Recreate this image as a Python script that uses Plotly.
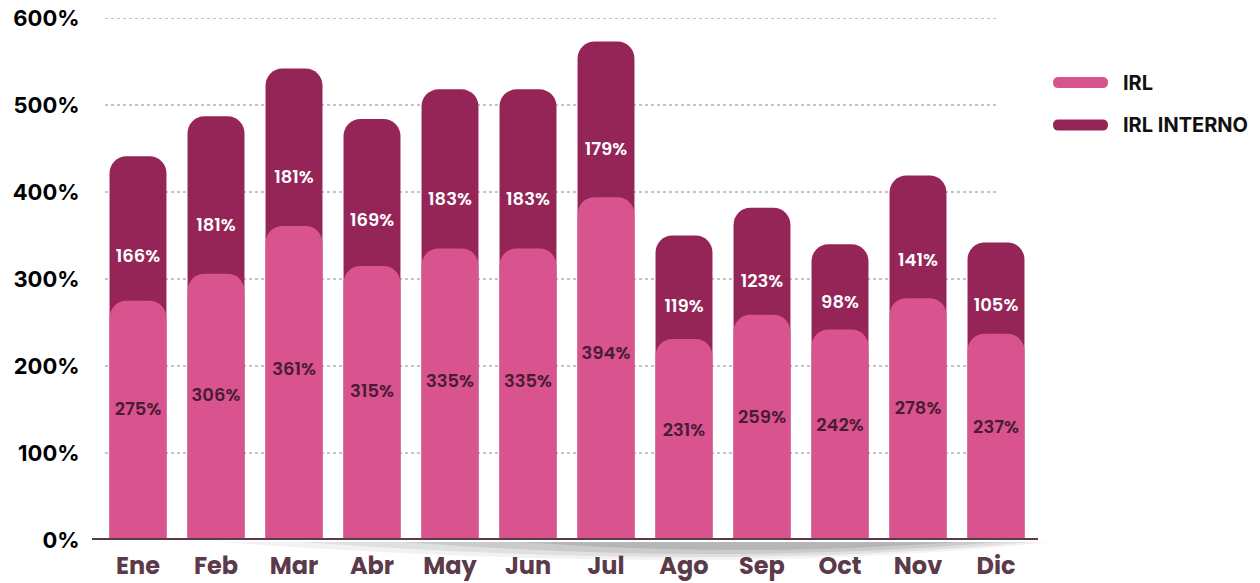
import plotly.graph_objects as go

# ---- data ----
months = ["Ene", "Feb", "Mar", "Abr", "May", "Jun", "Jul", "Ago", "Sep", "Oct", "Nov", "Dic"]
irl = [275, 306, 361, 315, 335, 335, 394, 231, 259, 242, 278, 237]
irl_interno = [166, 181, 181, 169, 183, 183, 179, 119, 123, 98, 141, 105]
y_ticks = [0, 100, 200, 300, 400, 500, 600]
series_names = ["IRL", "IRL INTERNO"]

PINK = "#D9548F"
DARK = "#952457"
XLAB = "#5B3A4A"
PINK_TXT = "#4A1B33"

totals = [a + b for a, b in zip(irl, irl_interno)]

OFF = 8  # default page body margin
W, H = 1260 - OFF, 583 - OFF
# plot area in page pixels: x 99..1035, y 18..540
L, T = 99 - OFF, 18 - OFF
R, B = W - (1035 - OFF), H - (540 - OFF)
PW, PH = W - L - R, H - T - B
BW = 0.73


def px_x(px):
    return (px - OFF - L) / PW


def px_y(py):
    return (H - B - (py - OFF)) / PH


fig = go.Figure()

# full stack (dark) drawn first, rounded top
fig.add_bar(x=months, y=totals, name=series_names[1], width=BW,
            marker=dict(color=DARK, cornerradius=17, line_width=0),
            showlegend=False, hoverinfo="skip", xaxis="x", yaxis="y")
# IRL (pink) on an overlaid subplot so it gets its own rounded top
fig.add_bar(x=months, y=irl, name=series_names[0], width=BW,
            marker=dict(color=PINK, cornerradius=17, line_width=0),
            showlegend=False, hoverinfo="skip", xaxis="x2", yaxis="y2")

# labels
fig.add_scatter(x=months, y=[v * 0.54 for v in irl], mode="text",
                text=[f"{v}%" for v in irl],
                textfont=dict(color=PINK_TXT, size=18, family="Poppins, Inter, sans-serif", weight=600),
                showlegend=False, hoverinfo="skip", xaxis="x2", yaxis="y2")
fig.add_scatter(x=months, y=[a + b * 0.3 for a, b in zip(irl, irl_interno)], mode="text",
                text=[f"{v}%" for v in irl_interno],
                textfont=dict(color="white", size=18, family="Poppins, Inter, sans-serif", weight=600),
                showlegend=False, hoverinfo="skip", xaxis="x2", yaxis="y2")

shapes = []
# dotted gridlines
for v in y_ticks[1:]:
    shapes.append(dict(type="line", xref="paper", yref="y", x0=px_x(105), x1=px_x(998), y0=v, y1=v,
                       line=dict(color="#8A8A8A", width=1, dash="dot"), layer="below"))

# soft shadow under axis line
for x0, x1, xc, yc, a in [(220, 1050, 720, 578, 0.05), (300, 1030, 720, 572, 0.07),
                          (400, 1000, 730, 566, 0.09), (520, 960, 740, 558, 0.10)]:
    path = (f"M {px_x(x0)},{px_y(542)} Q {px_x(xc)},{px_y(yc)} {px_x(x1)},{px_y(542)} Z")
    shapes.append(dict(type="path", xref="paper", yref="paper", path=path,
                       fillcolor=f"rgba(0,0,0,{a})", line=dict(width=0), layer="above"))

# axis line
shapes.append(dict(type="line", xref="paper", yref="y", x0=px_x(92), x1=px_x(1038), y0=0, y1=0,
                   line=dict(color=XLAB, width=4), layer="above"))


# legend rounded markers
def pill(xa, xb, ya, yb):
    r = (yb - ya) / 2
    ym = (ya + yb) / 2
    pts = [
        f"M {px_x(xa + r)},{px_y(ya)}",
        f"L {px_x(xb - r)},{px_y(ya)}",
        f"Q {px_x(xb)},{px_y(ya)} {px_x(xb)},{px_y(ym)}",
        f"Q {px_x(xb)},{px_y(yb)} {px_x(xb - r)},{px_y(yb)}",
        f"L {px_x(xa + r)},{px_y(yb)}",
        f"Q {px_x(xa)},{px_y(yb)} {px_x(xa)},{px_y(ym)}",
        f"Q {px_x(xa)},{px_y(ya)} {px_x(xa + r)},{px_y(ya)} Z",
    ]
    return " ".join(pts)


legend_colors = [PINK, DARK]
legend_y = [82.5, 125]
annotations = []
for name, col, yc in zip(series_names, legend_colors, legend_y):
    shapes.append(dict(type="path", xref="paper", yref="paper", path=pill(1053, 1108, yc - 5.5, yc + 5.5),
                       fillcolor=col, line=dict(width=0)))
    annotations.append(dict(x=px_x(1121), y=px_y(yc), xref="paper", yref="paper", text=name,
                            showarrow=False, xanchor="left", yanchor="middle",
                            font=dict(size=20, color="#111111", family="Inter, sans-serif", weight="bold")))

xr = [-0.5, len(months) - 0.5]
yr = [0, 600]
fig.update_layout(
    width=W, height=H,
    margin=dict(l=L, r=R, t=T, b=B, pad=0, autoexpand=False),
    barmode="overlay",
    plot_bgcolor="white", paper_bgcolor="white",
    shapes=shapes, annotations=annotations,
    showlegend=False,
    xaxis=dict(showgrid=False, zeroline=False, showline=False, ticks="", automargin=False, range=xr,
               tickfont=dict(size=24, color=XLAB, family="Poppins, Inter, sans-serif", weight="bold"),
               ticklabelstandoff=9, ticklabeloverflow="allow"),
    yaxis=dict(range=yr, tickvals=y_ticks, ticktext=[f"{v}%" for v in y_ticks],
               showgrid=False, zeroline=False, showline=False,
               ticks="outside", ticklen=14, tickcolor="rgba(0,0,0,0)", automargin=False,
               tickfont=dict(size=22, color="#000000", family="Inter, sans-serif", weight="bold"),
               ticklabeloverflow="allow"),
    xaxis2=dict(overlaying="x", matches="x", range=xr, visible=False, showgrid=False, zeroline=False),
    yaxis2=dict(overlaying="y", range=yr, visible=False, showgrid=False, zeroline=False),
)

fig.write_html("out.html")
